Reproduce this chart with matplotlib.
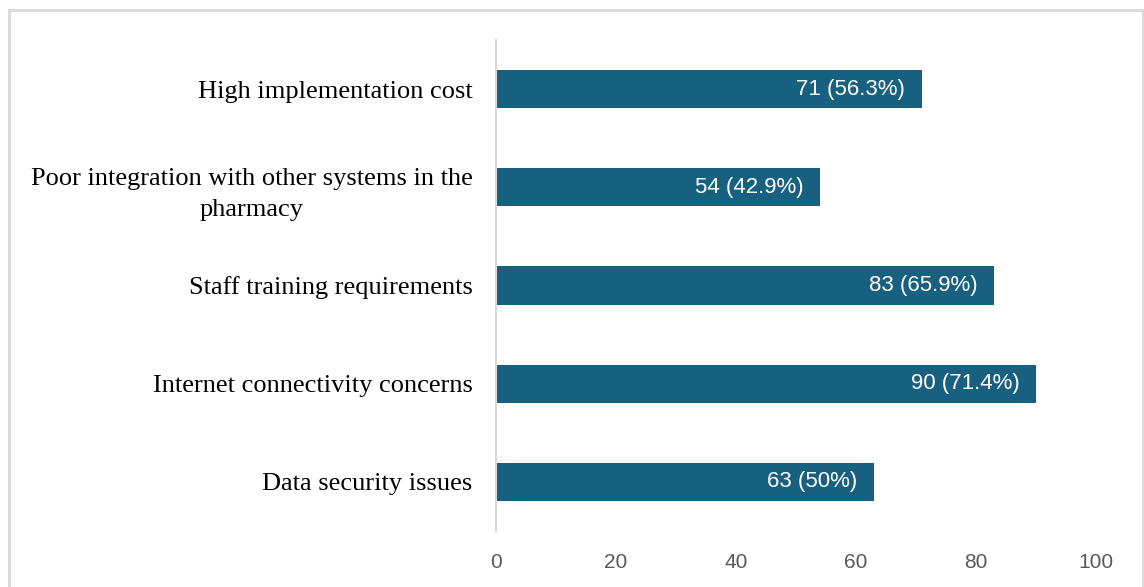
import matplotlib.pyplot as plt
from matplotlib.patches import Rectangle

# --- Data ---
barriers = [
    "Data security issues",
    "Internet connectivity concerns",
    "Staff training requirements",
    "Poor integration with other systems in the\npharmacy",
    "High implementation cost",
]
counts = [63, 90, 83, 54, 71]
percents = ["50", "71.4", "65.9", "42.9", "56.3"]
xticks = [0, 20, 40, 60, 80, 100]

BAR_COLOR = "#176080"
TICK_COLOR = "#595959"

fig = plt.figure(figsize=(11.44, 5.87), dpi=100)
W, H = 1144, 587

# light frame around the chart area
fig.patches.append(Rectangle((9 / W, -0.05), (1143 - 9) / W, (H - 10) / H + 0.05,
                             transform=fig.transFigure, fill=False,
                             edgecolor="#d9d9d9", linewidth=2))

ax = fig.add_axes([496 / W, (H - 531) / H, 600 / W, 491 / H])

y = range(len(barriers))
ax.barh(y, counts, height=0.39, color=BAR_COLOR)

for yi, c, p in zip(y, counts, percents):
    ax.annotate(f"{c} ({p}%)", xy=(c, yi), xytext=(-12, 0), textcoords="offset points",
                ha="right", va="center", color="white", fontsize=16,
                family="Liberation Sans")

ax.set_xlim(0, 100)
ax.set_ylim(-0.5, len(barriers) - 0.5)
ax.set_xticks(xticks)
ax.set_xticklabels([str(t) for t in xticks], fontsize=15, color=TICK_COLOR,
                   family="Liberation Sans")
ax.set_yticks(list(y))
ax.set_yticklabels(barriers, fontsize=19, family="Liberation Serif",
                   multialignment="center", linespacing=1.55)
ax.tick_params(axis="x", length=0, pad=16)
ax.tick_params(axis="y", length=0, pad=17)

for side in ["top", "right", "bottom"]:
    ax.spines[side].set_visible(False)
ax.spines["left"].set_color("#d9d9d9")
ax.spines["left"].set_linewidth(1.5)

plt.savefig("out.png", dpi=100)
